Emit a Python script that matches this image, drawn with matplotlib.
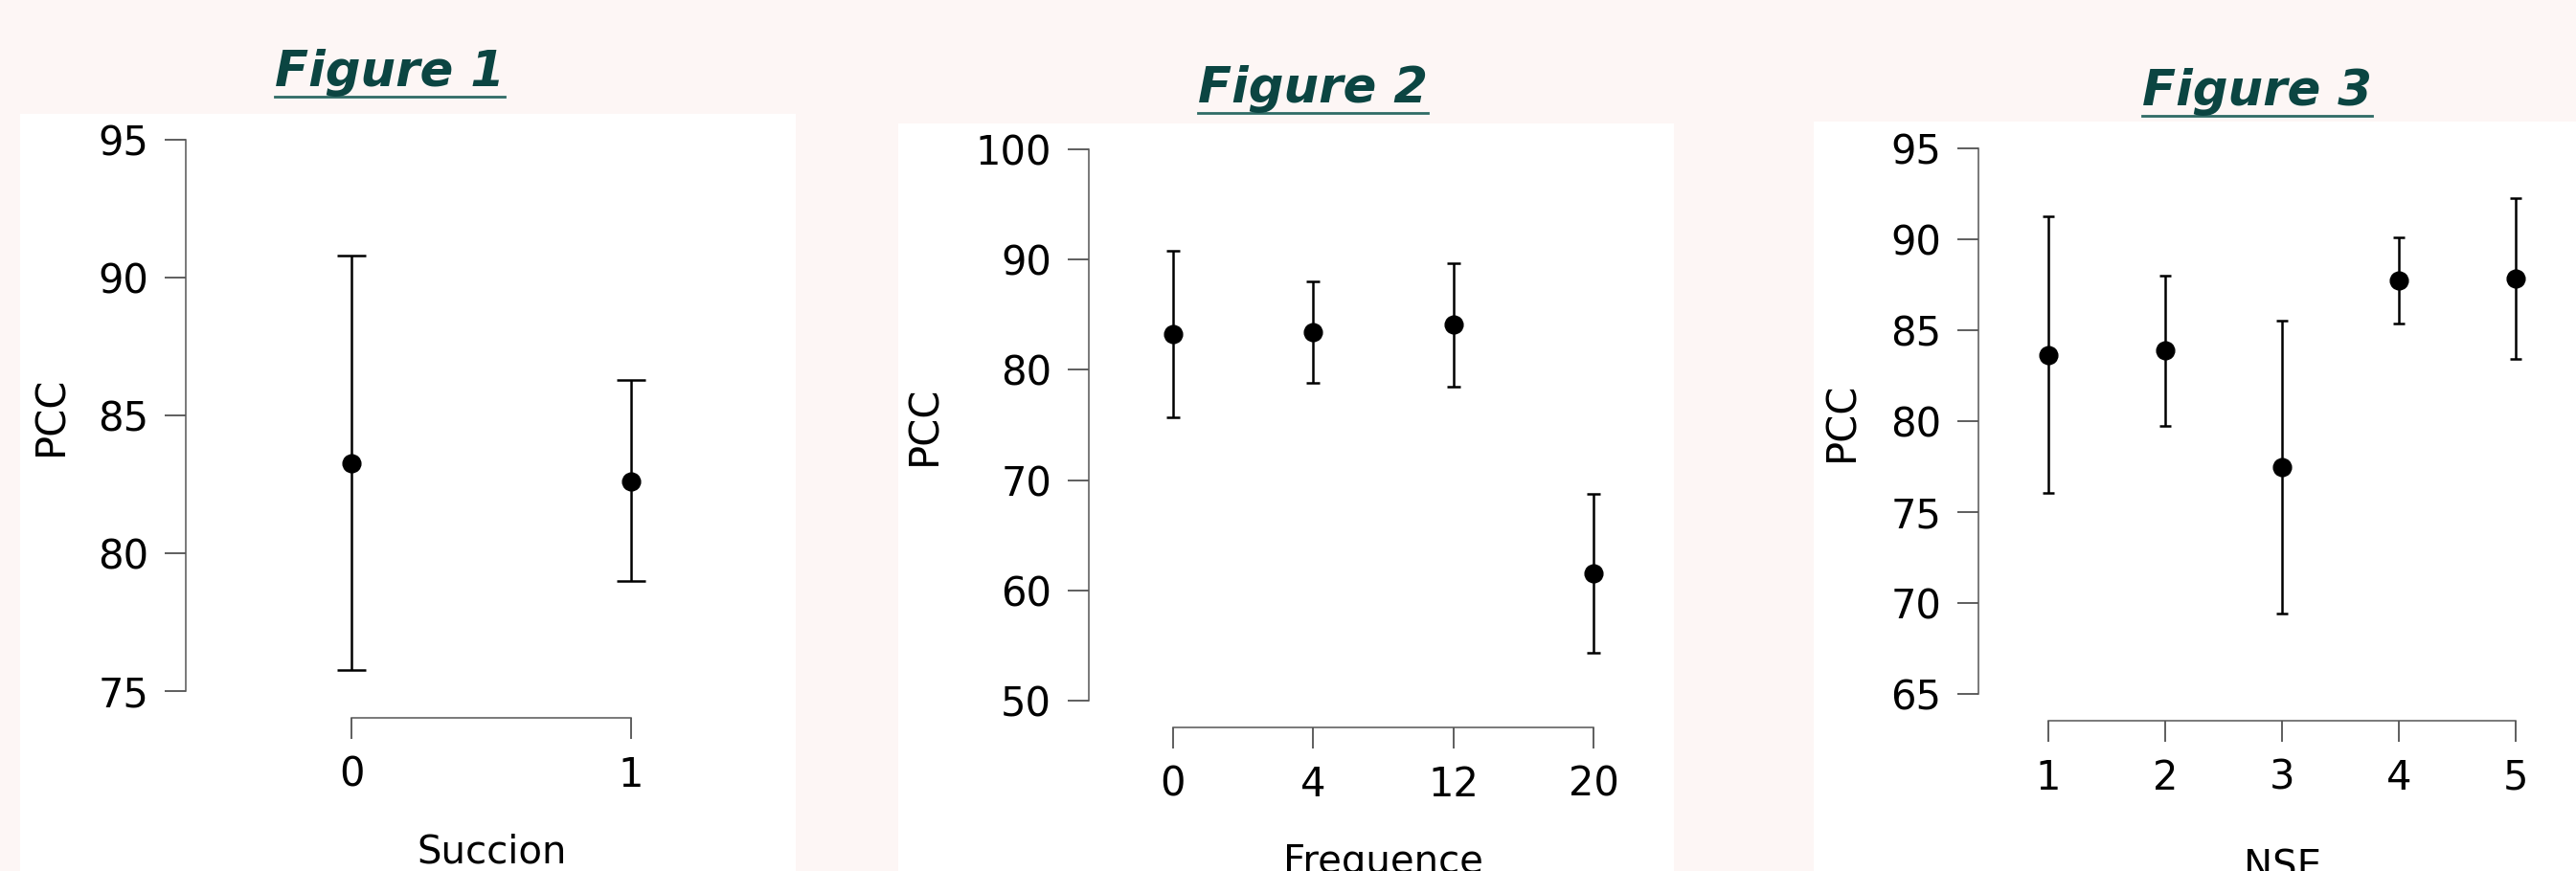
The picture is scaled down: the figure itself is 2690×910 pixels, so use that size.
import matplotlib.pyplot as plt
from matplotlib.lines import Line2D

# ------------------------------------------
# DATA
# ------------------------------------------
succion_x = [0, 1]
succion_labels = ['0', '1']
succion_mean = [83.26, 82.62]
succion_low = [75.76, 78.99]
succion_high = [90.79, 86.30]

freq_labels = ['0', '4', '12', '20']
freq_mean = [83.25, 83.40, 84.10, 61.52]
freq_low = [75.72, 78.86, 78.51, 54.34]
freq_high = [90.78, 87.99, 89.63, 68.74]

nse_x = [1, 2, 3, 4, 5]
nse_labels = ['1', '2', '3', '4', '5']
nse_mean = [83.65, 83.89, 77.49, 87.74, 87.86]
nse_low = [76.06, 79.76, 69.42, 85.38, 83.41]
nse_high = [91.24, 87.98, 85.53, 90.13, 92.25]

W, H = 2690, 910
BG = '#fdf6f5'
TEAL = '#0b4542'

fig = plt.figure(figsize=(W / 100, H / 100), dpi=100, facecolor=BG)
plt.rcParams['font.family'] = ['DejaVu Sans']


def px_rect(left, top, right, bottom):
    return [left / W, 1 - bottom / H, (right - left) / W, (bottom - top) / H]


def panel(bg_box, ax_box, x, labels, mean, low, high, yticks, xlim,
          xlabel, ylabel_x, xlabel_top, capsize):
    # white card behind each panel
    bg = fig.add_axes(px_rect(*bg_box))
    bg.set_facecolor('white')
    bg.set_xticks([]); bg.set_yticks([])
    for s in bg.spines.values():
        s.set_visible(False)
    bg.set_zorder(0)

    ax = fig.add_axes(px_rect(*ax_box))
    ax.set_zorder(1)
    ax.patch.set_alpha(0)
    yerr = [[m - l for m, l in zip(mean, low)], [h - m for m, h in zip(mean, high)]]
    ax.errorbar(x, mean, yerr=yerr, fmt='o', color='black', ms=13.5,
                elinewidth=1.8, capsize=capsize, capthick=1.8, clip_on=False)
    ax.set_ylim(yticks[0], yticks[-1])
    ax.set_xlim(*xlim)
    ax.set_yticks(yticks)
    ax.set_xticks(x)
    ax.set_xticklabels(labels)
    for s in ['top', 'right']:
        ax.spines[s].set_visible(False)
    for s in ['left', 'bottom']:
        ax.spines[s].set_color('#555555')
        ax.spines[s].set_linewidth(1.1)
    ax.spines['left'].set_bounds(yticks[0], yticks[-1])
    ax.spines['bottom'].set_bounds(x[0], x[-1])
    ax.spines['bottom'].set_position(('outward', 20))
    ax.tick_params(axis='both', length=16, width=1.1, color='#333333',
                   labelsize=30, pad=12)
    ax.set_ylabel('PCC', fontsize=30)
    ax.set_xlabel(xlabel, fontsize=29)
    xc = (x[0] + x[-1]) / 2
    xc_px = ax.transData.transform((xc, 0))[0]
    ax.xaxis.set_label_coords(xc_px / W, 1 - xlabel_top / H, transform=fig.transFigure)
    # y label at the middle of the axes height
    ymid = 1 - ((ax_box[1] + ax_box[3]) / 2) / H
    ax.yaxis.set_label_coords(ylabel_x / W, ymid, transform=fig.transFigure)
    return ax


panel((21, 119, 831, 910), (194, 146, 790, 722), succion_x, succion_labels,
      succion_mean, succion_low, succion_high, [75, 80, 85, 90, 95],
      (-0.595, 1.45), 'Succion', 74, 870, 11)

panel((938, 129, 1748, 910), (1137, 156, 1730, 732), [0, 1, 2, 3], freq_labels,
      freq_mean, freq_low, freq_high, [50, 60, 70, 80, 90, 100],
      (-0.598, 3.45), 'Frequence', 986, 881, 4.7)

panel((1894, 127, 2690, 910), (2066, 155, 2680, 725), nse_x, nse_labels,
      nse_mean, nse_low, nse_high, [65, 70, 75, 80, 85, 90, 95],
      (0.405, 5.43), 'NSE', 1944, 886, 4.5)

# titles (italic, underlined)
titles = [('Figure 1', 407, 90), ('Figure 2', 1371, 107), ('Figure 3', 2357, 110)]
fig.canvas.draw()
renderer = fig.canvas.get_renderer()
for txt, cx, base in titles:
    t = fig.text(cx / W, 1 - base / H, txt, ha='center', va='baseline',
                 fontsize=37, fontstyle='oblique', fontweight='bold',
                 family='DejaVu Sans', color=TEAL)
    bb = t.get_window_extent(renderer)
    uy = 1 - (base + 11) / H
    fig.add_artist(Line2D([bb.x0 / W, bb.x1 / W], [uy, uy], color='#2f6b66',
                          lw=2, transform=fig.transFigure))

fig.savefig('out.png', dpi=100, facecolor=BG)
